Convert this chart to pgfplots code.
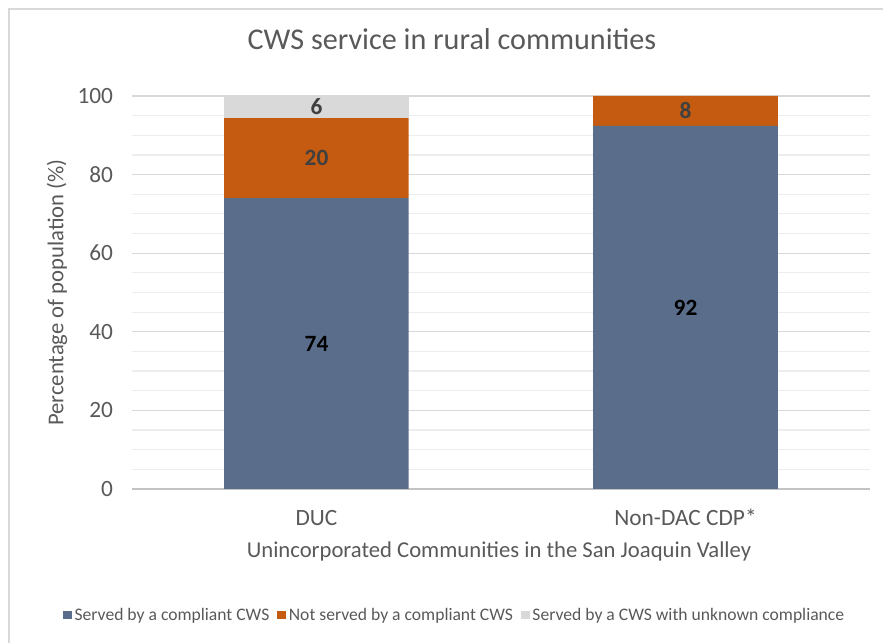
\documentclass[border=0pt]{standalone}
\usepackage{fontspec}
\setmainfont{Carlito}
\usepackage{pgfplots}
\pgfplotsset{compat=1.18}

\definecolor{cwsblue}{HTML}{5A6E8C}
\definecolor{cwsorange}{HTML}{C55A11}
\definecolor{cwsgray}{HTML}{D9D9D9}
\definecolor{txtgray}{HTML}{595959}
\definecolor{gridmaj}{HTML}{D9D9D9}
\definecolor{gridmin}{HTML}{EDEDED}

\begin{document}
\begin{tikzpicture}[x=1pt,y=1pt]
  % page = 883 x 643 px at 0.75pt per px
  \useasboundingbox (0,0) rectangle (662.25,482.25);
  \draw[cwsgray, line width=1.2pt] (6.75,-5) -- (6.75,475.5) -- (670,475.5);

  \begin{axis}[
      at={(99pt,115.5pt)}, anchor=south west,
      scale only axis,
      width=553.5pt, height=294.75pt,
      ybar stacked,
      bar width=0.5,
      xmin=-0.5, xmax=1.5,
      ymin=0, ymax=100,
      xtick={0,1},
      xticklabels={DUC, Non-DAC CDP*},
      ytick={0,20,...,100},
      minor y tick num=3,
      ymajorgrids, yminorgrids,
      major grid style={gridmaj, line width=0.9pt},
      minor grid style={gridmin, line width=0.9pt},
      axis x line*=bottom,
      axis y line*=left,
      y axis line style={draw=none},
      x axis line style={draw=gridmaj!90!black, line width=1pt, -},
      major tick length=0pt, minor tick length=0pt,
      tick style={draw=none},
      /pgf/number format/assume math mode=true,
      every tick label/.append style={font=\fontsize{17.5}{20}\selectfont, text=txtgray},
      yticklabel style={anchor=east, inner sep=0pt, xshift=-14pt},
      xticklabel style={anchor=center, yshift=-21.5pt},
      title={CWS service in rural communities},
      title style={at={(axis description cs:0.4336,1.1247)}, anchor=center,
                   font=\fontsize{22.6}{26}\selectfont, text=txtgray},
      xlabel={Unincorporated Communities in the San Joaquin Valley},
      xlabel style={at={(axis description cs:0.4973,-0.158)}, anchor=center,
                    font=\fontsize{17}{20}\selectfont, text=txtgray},
      ylabel={Percentage of population (\%)},
      ylabel style={at={(axis description cs:-0.1016,0.5)}, anchor=center,
                    font=\fontsize{17}{20}\selectfont, text=txtgray},
      legend columns=3,
      legend style={at={(axis description cs:0.4377,-0.3206)}, anchor=center,
                    draw=none, fill=none,
                    font=\fontsize{13.2}{15}\selectfont, text=txtgray,
                    /tikz/every even column/.append style={column sep=4pt}},
      legend image code/.code={\fill[#1] (0pt,-3.3pt) rectangle (6.6pt,3.3pt);},
      point meta=explicit symbolic,
      nodes near coords,
      every node near coord/.append style={anchor=center,
          font=\bfseries\fontsize{17.5}{20}\selectfont},
  ]
    \addplot[fill=cwsblue, draw=none, nodes near coords style={text=black}]
      coordinates {(0,74.0) [74] (1,92.4) [92]};
    \addplot[fill=cwsorange, draw=none, nodes near coords style={text=black!75}]
      coordinates {(0,20.4) [20] (1,7.6) [8]};
    \addplot[fill=cwsgray, draw=none, nodes near coords style={text=black!75}]
      coordinates {(0,5.6) [6] (1,0) []};
    \legend{Served by a compliant CWS, Not served by a compliant CWS, Served by a CWS with unknown compliance}
  \end{axis}
\end{tikzpicture}
\end{document}
